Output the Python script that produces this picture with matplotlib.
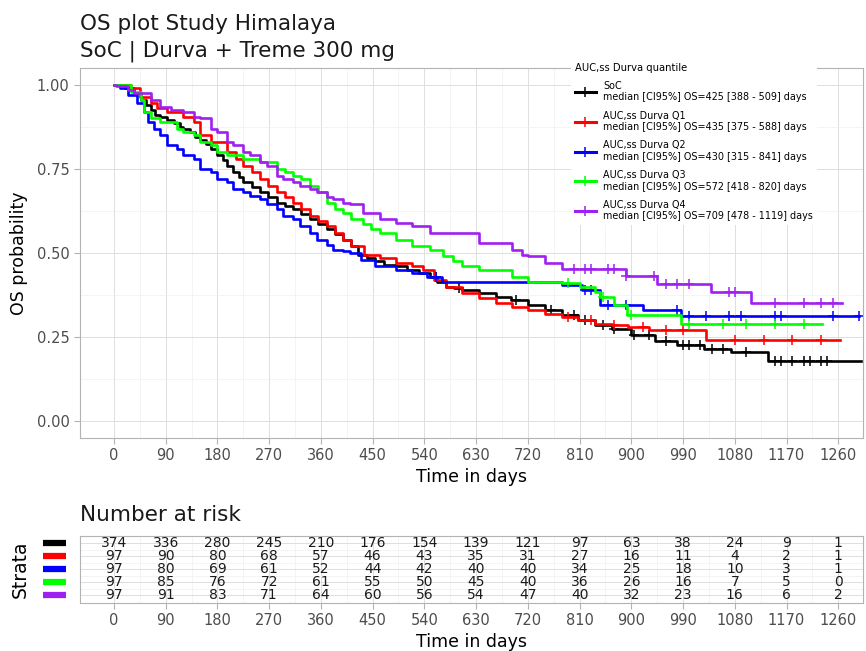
import matplotlib
matplotlib.use("Agg")
import matplotlib.pyplot as plt
import matplotlib.transforms as mtransforms
from matplotlib.lines import Line2D
import numpy as np

# strata
group_names = ["SoC", "AUC,ss Durva Q1", "AUC,ss Durva Q2", "AUC,ss Durva Q3", "AUC,ss Durva Q4"]
group_colors = ["#000000", "#FF0000", "#0000FF", "#00FF00", "#A020F0"]
median_os = ["425 [388 - 509]", "435 [375 - 588]", "430 [315 - 841]", "572 [418 - 820]", "709 [478 - 1119]"]

# Kaplan-Meier steps (time in days, survival after the step)
soc_t = [0, 20, 35, 47, 55, 64, 72, 81, 93, 105, 115, 121, 132, 141, 150, 160, 168, 180, 190, 197, 208,
         218, 225, 240, 254, 268, 283, 298, 312, 326, 341, 355, 370, 384, 398, 412, 425, 440, 455, 470,
         491, 510, 530, 549, 562, 577, 592, 606, 635, 664, 690, 721, 750, 779, 808, 837, 866, 900, 941,
         980, 1027, 1073, 1137]
soc_s = [1.0, 0.99, 0.975, 0.955, 0.94, 0.925, 0.91, 0.905, 0.895, 0.885, 0.875, 0.87, 0.86, 0.845, 0.835,
         0.825, 0.81, 0.79, 0.775, 0.76, 0.74, 0.725, 0.71, 0.695, 0.68, 0.665, 0.65, 0.64, 0.63, 0.615,
         0.60, 0.585, 0.57, 0.555, 0.54, 0.52, 0.495, 0.485, 0.475, 0.465, 0.46, 0.45, 0.44, 0.43, 0.415,
         0.40, 0.395, 0.39, 0.38, 0.37, 0.36, 0.345, 0.33, 0.315, 0.30, 0.285, 0.275, 0.255, 0.237, 0.226,
         0.216, 0.206, 0.178]
q1_t = [0, 29, 45, 64, 75, 93, 121, 139, 150, 168, 197, 212, 225, 240, 254, 268, 283, 298, 312, 326, 341,
        355, 370, 384, 398, 412, 435, 462, 491, 519, 537, 557, 577, 606, 635, 664, 692, 721, 750, 779, 808,
        837, 866, 895, 930, 1030]
q1_s = [1.0, 0.99, 0.965, 0.945, 0.93, 0.92, 0.905, 0.89, 0.85, 0.83, 0.80, 0.78, 0.76, 0.74, 0.72, 0.70,
        0.68, 0.665, 0.65, 0.63, 0.61, 0.595, 0.58, 0.56, 0.54, 0.52, 0.495, 0.485, 0.47, 0.46, 0.45, 0.42,
        0.40, 0.38, 0.365, 0.35, 0.34, 0.33, 0.32, 0.31, 0.30, 0.29, 0.285, 0.28, 0.27, 0.24]
q2_t = [0, 10, 25, 40, 52, 60, 69, 81, 93, 110, 121, 139, 150, 168, 180, 197, 208, 225, 237, 254, 266,
        283, 294, 312, 324, 341, 353, 370, 381, 398, 410, 430, 455, 491, 519, 545, 571, 779, 815, 845,
        920, 987]
q2_s = [1.0, 0.99, 0.97, 0.945, 0.92, 0.89, 0.87, 0.85, 0.82, 0.81, 0.79, 0.78, 0.75, 0.74, 0.72, 0.71,
        0.69, 0.68, 0.67, 0.66, 0.645, 0.63, 0.61, 0.60, 0.58, 0.56, 0.54, 0.525, 0.51, 0.505, 0.50, 0.48,
        0.46, 0.45, 0.44, 0.43, 0.415, 0.405, 0.39, 0.344, 0.331, 0.314]
q3_t = [0, 30, 47, 52, 64, 81, 110, 121, 139, 150, 168, 180, 197, 225, 254, 283, 298, 312, 326, 341, 355,
        370, 384, 398, 412, 433, 448, 462, 491, 519, 549, 572, 590, 606, 635, 692, 721, 779, 810, 837,
        845, 870, 893, 987]
q3_s = [1.0, 0.98, 0.955, 0.92, 0.90, 0.89, 0.87, 0.86, 0.85, 0.83, 0.82, 0.80, 0.79, 0.78, 0.77, 0.75,
        0.74, 0.73, 0.72, 0.70, 0.68, 0.65, 0.63, 0.62, 0.60, 0.585, 0.57, 0.56, 0.54, 0.52, 0.51, 0.49,
        0.475, 0.46, 0.45, 0.43, 0.415, 0.41, 0.40, 0.385, 0.37, 0.344, 0.315, 0.29]
q4_t = [0, 3, 24, 35, 64, 81, 100, 121, 139, 150, 168, 180, 197, 208, 225, 237, 254, 266, 283, 294, 312,
        324, 341, 353, 370, 381, 398, 410, 433, 462, 491, 519, 549, 635, 692, 709, 721, 750, 780, 890,
        945, 1039, 1108]
q4_s = [1.0, 0.995, 0.985, 0.975, 0.955, 0.935, 0.925, 0.92, 0.905, 0.90, 0.87, 0.86, 0.83, 0.82, 0.80,
        0.79, 0.77, 0.76, 0.73, 0.72, 0.71, 0.70, 0.69, 0.68, 0.665, 0.66, 0.65, 0.645, 0.62, 0.60, 0.59,
        0.58, 0.56, 0.53, 0.51, 0.495, 0.49, 0.47, 0.453, 0.433, 0.408, 0.384, 0.352]

# last follow-up per stratum
last_t = [1300, 1263, 1296, 1232, 1267]

# censored observations
soc_cens = [560, 600, 700, 760, 800, 820, 850, 870, 905, 930, 960, 990, 1000, 1020, 1040, 1060, 1100,
            1150, 1160, 1180, 1200, 1210, 1230, 1240]
q1_cens = [790, 830, 870, 920, 960, 990, 1080, 1130, 1180, 1230]
q2_cens = [560, 820, 830, 860, 890, 980, 1000, 1030, 1070, 1090, 1150, 1160, 1250, 1296]
q3_cens = [790, 850, 900, 1000, 1060, 1100, 1150, 1200]
q4_cens = [800, 820, 830, 860, 870, 890, 940, 960, 980, 1000, 1070, 1080, 1150, 1200, 1230, 1250]

# number at risk
risk_times = [0, 90, 180, 270, 360, 450, 540, 630, 720, 810, 900, 990, 1080, 1170, 1260]
soc_risk = [374, 336, 280, 245, 210, 176, 154, 139, 121, 97, 63, 38, 24, 9, 1]
q1_risk = [97, 90, 80, 68, 57, 46, 43, 35, 31, 27, 16, 11, 4, 2, 1]
q2_risk = [97, 80, 69, 61, 52, 44, 42, 40, 40, 34, 25, 18, 10, 3, 1]
q3_risk = [97, 85, 76, 72, 61, 55, 50, 45, 40, 36, 26, 16, 7, 5, 0]
q4_risk = [97, 91, 83, 71, 64, 60, 56, 54, 47, 40, 32, 23, 16, 6, 2]

curves = [(soc_t, soc_s), (q1_t, q1_s), (q2_t, q2_s), (q3_t, q3_s), (q4_t, q4_s)]
censors = [soc_cens, q1_cens, q2_cens, q3_cens, q4_cens]
risks = [soc_risk, q1_risk, q2_risk, q3_risk, q4_risk]

GRID_MAJ = "#DEDEDE"
GRID_MIN = "#EEEEEE"
BORDER = "#B3B3B3"
TICK_TXT = "#4D4D4D"
XLIM = (-59, 1303)


def style_panel(ax):
    ax.set_xlim(*XLIM)
    ax.set_xticks(risk_times)
    ax.set_xticks(np.arange(45, 1303, 90), minor=True)
    ax.grid(True, which="major", color=GRID_MAJ, lw=0.7)
    ax.grid(True, which="minor", color=GRID_MIN, lw=0.45)
    ax.set_axisbelow(True)
    for sp in ax.spines.values():
        sp.set_color(BORDER)
        sp.set_linewidth(0.8)
    ax.tick_params(which="major", length=4, color=BORDER, labelcolor=TICK_TXT, labelsize=10.5)
    ax.tick_params(which="minor", length=0)


fig = plt.figure(figsize=(8.66, 6.51), dpi=100)
W, H = 866, 651

ax = fig.add_axes([80 / W, 1 - 438 / H, 783 / W, 370 / H])
style_panel(ax)
ax.set_ylim(-0.05, 1.05)
ax.set_yticks([0, 0.25, 0.5, 0.75, 1.0])
ax.set_yticklabels(["0.00", "0.25", "0.50", "0.75", "1.00"])
ax.set_yticks([0.125, 0.375, 0.625, 0.875], minor=True)

for (t, s), cens, end, col in zip(curves, censors, last_t, group_colors):
    tt = np.append(t, end)
    ss = np.append(s, s[-1])
    ax.step(tt, ss, where="post", color=col, lw=1.9)
    c = np.array(cens)
    cy = np.array(s)[np.searchsorted(t, c, side="right") - 1]
    ax.plot(c, cy, ls="none", marker="+", ms=7, mew=1.1, color=col)

ax.set_xlabel("Time in days", fontsize=12.5, labelpad=3)
ax.set_ylabel("OS probability", fontsize=12.5, labelpad=6)

handles = [Line2D([], [], color=c, lw=2.2, marker="+", ms=7, mew=1.1) for c in group_colors]
labels = [f"{n}\nmedian [CI95%] OS={m} days" for n, m in zip(group_names, median_os)]
leg = ax.legend(handles, labels, title="AUC,ss Durva quantile", loc="upper left",
                bbox_to_anchor=(566 / W, 1 - 54 / H), bbox_transform=fig.transFigure,
                fontsize=6.9, title_fontsize=7.2, frameon=True, fancybox=False,
                edgecolor="none", facecolor="white", framealpha=1, labelspacing=0.85,
                handlelength=2.2, handletextpad=0.8, borderpad=0.4)
leg._legend_box.align = "left"

fig.text(80 / W, 1 - 30 / H, "OS plot Study Himalaya", fontsize=15.5, va="baseline", color="#1A1A1A")
fig.text(80 / W, 1 - 56 / H, "SoC | Durva + Treme 300 mg", fontsize=15.5, va="baseline", color="#1A1A1A")

# risk table
ax2 = fig.add_axes([80 / W, 1 - 603 / H, 783 / W, 67 / H])
style_panel(ax2)
ax2.set_ylim(0.4, 5.55)
ax2.set_yticks([1, 2, 3, 4, 5])
ax2.set_yticks([1.5, 2.5, 3.5, 4.5], minor=True)
ax2.tick_params(axis="y", which="major", length=0, labelleft=False)
for row, vals in enumerate(risks):
    y = 5 - row
    for x, v in zip(risk_times, vals):
        ax2.text(x, y, str(v), ha="center", va="center", fontsize=10, color="#1A1A1A")
    trans = mtransforms.blended_transform_factory(ax2.transAxes, ax2.transData)
    ax2.plot([-0.047, -0.018], [y, y], transform=trans, color=group_colors[row], lw=4.5,
             solid_capstyle="butt", clip_on=False)
ax2.set_xlabel("Time in days", fontsize=12.5, labelpad=3)
fig.text(80 / W, 1 - 515 / H, "Number at risk", fontsize=15.5, va="center", color="#1A1A1A")
fig.text(20 / W, 1 - 569 / H, "Strata", fontsize=13.5, rotation=90, va="center", ha="center")

fig.savefig("out.png", dpi=100)
